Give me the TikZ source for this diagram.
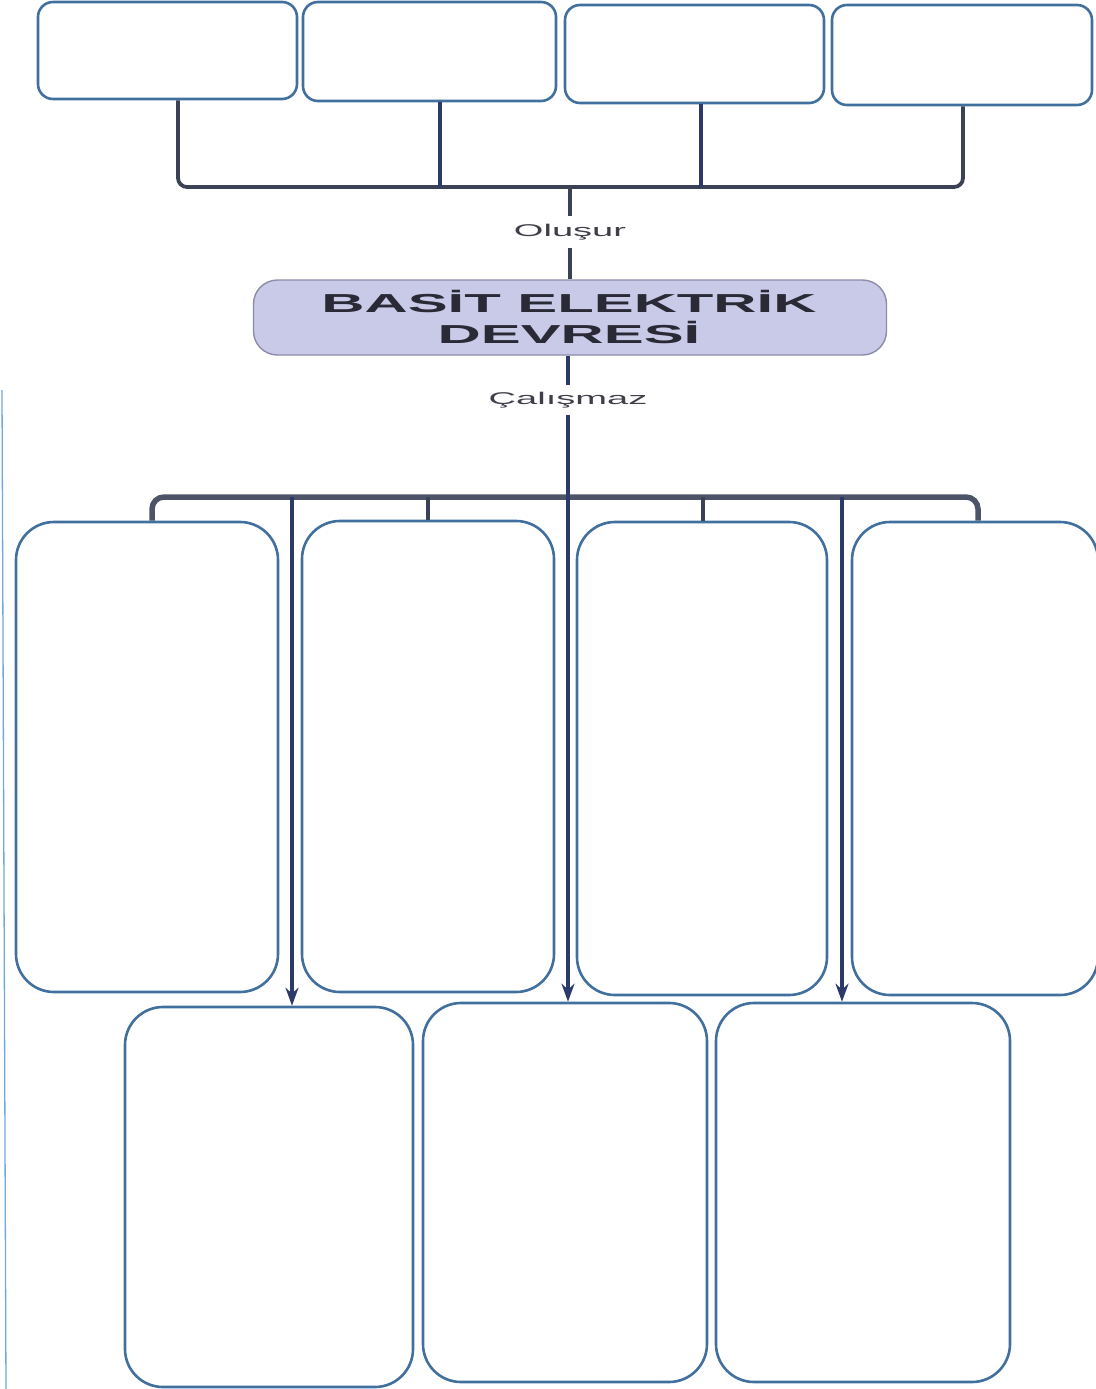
\documentclass[tikz,border=0pt]{standalone}
\usepackage{fontspec}
\setmainfont{Liberation Sans}
\usetikzlibrary{arrows.meta}
\definecolor{boxblue}{HTML}{41709F}
\definecolor{navy}{HTML}{2C3A6A}
\definecolor{darkgray}{HTML}{3C4256}
\definecolor{brack}{HTML}{4E5468}
\definecolor{lav}{HTML}{C9C9E8}
\definecolor{lavborder}{HTML}{8C8CAA}
\definecolor{txt}{HTML}{2A2A36}
\definecolor{edgeblue}{HTML}{6FA8DC}
\tikzset{
  topbox/.style={draw=boxblue, line width=2.6pt, rounded corners=15pt, fill=white, inner sep=0pt},
  tallbox/.style={draw=boxblue, line width=2.6pt, rounded corners=38pt, fill=white, inner sep=0pt},
  mainbox/.style={draw=lavborder, line width=1.4pt, rounded corners=24pt, fill=lav, inner sep=0pt, text=txt},
  conn/.style={draw=darkgray, line width=3.8pt},
  nconn/.style={draw=navy, line width=3.8pt},
  bracketline/.style={draw=brack, line width=5.5pt},
  arrowline/.style={draw=navy, line width=3.4pt, -{Stealth[length=18pt,width=13pt]}},
  lbl/.style={inner sep=0pt, outer sep=0pt, text=txt!90}
}
\begin{document}
\begin{tikzpicture}[x=1pt,y=-1pt]
\useasboundingbox (0,0) rectangle (1095,1389);
% faint left edge line
\coordinate (e1) at (2,390);
\coordinate (e2) at (6,1389);
\draw[edgeblue, line width=1.3pt] (e1) -- (e2);

% top boxes
\node[topbox, minimum width=259pt, minimum height=97pt] (t1) at (167.5,50.5) {};
\node[topbox, minimum width=253pt, minimum height=99pt] (t2) at (429.5,51.5) {};
\node[topbox, minimum width=259pt, minimum height=98pt] (t3) at (694.5,54) {};
\node[topbox, minimum width=260pt, minimum height=100pt] (t4) at (962,55) {};

% top bracket
\coordinate (bl) at (178,187);
\coordinate (bm2) at (440,187);
\coordinate (bm3) at (701,187);
\coordinate (br) at (963,187);
\coordinate (stemtop) at (570,187);
\draw[conn, rounded corners=9pt] (bl |- t1.south) -- (bl) -- (br) -- (br |- t4.south);
\draw[nconn] (bm2 |- t2.south) -- (bm2);
\draw[nconn] (bm3 |- t3.south) -- (bm3);

% central box
\node[mainbox, minimum width=633pt, minimum height=75pt] (center) at (570,317.5) {};
\node[text=txt, inner sep=0pt] (title) at (569,321)
  {\scalebox{2.3}[1]{\fontsize{26}{29}\selectfont\bfseries
   \begin{tabular}{@{}c@{}}BASİT ELEKTRİK\\DEVRESİ\end{tabular}}};

% Oluşur
\node[lbl, outer sep=8pt] (olusur) at (570,232) {\scalebox{2.24}[1]{\fontsize{17}{20}\selectfont Oluşur}};
\draw[conn] (stemtop) -- (olusur);
\draw[conn] (olusur) -- (center);

% Çalışmaz
\node[lbl, outer sep=7pt] (calismaz) at (568,400) {\scalebox{2.24}[1]{\fontsize{17}{20}\selectfont Çalışmaz}};
\draw[nconn] (calismaz |- center.south) -- (calismaz);

% middle tall boxes
\node[tallbox, minimum width=262pt, minimum height=470pt] (b1) at (147,757) {};
\node[tallbox, minimum width=252pt, minimum height=471pt] (b2) at (428,756.5) {};
\node[tallbox, minimum width=250pt, minimum height=473pt] (b3) at (702,758.5) {};
\node[tallbox, minimum width=246pt, minimum height=473pt] (b4) at (975,758.5) {};

% bottom boxes
\node[tallbox, minimum width=288pt, minimum height=380pt] (c1) at (269,1197) {};
\node[tallbox, minimum width=284pt, minimum height=379pt] (c2) at (565,1192.5) {};
\node[tallbox, minimum width=294pt, minimum height=379pt] (c3) at (863,1192.5) {};

% lower bracket
\coordinate (kl) at (152,497);
\coordinate (k2) at (428,497);
\coordinate (k3) at (703,497);
\coordinate (kr) at (978,497);
\coordinate (a1) at (292,497);
\coordinate (a3) at (842,497);
\draw[bracketline, rounded corners=12pt] (kl |- b1.north) -- (kl) -- (kr) -- (kr |- b4.north);
\draw[conn] (k2) -- (k2 |- b2.north);
\draw[conn] (k3) -- (k3 |- b3.north);

% arrows
\draw[arrowline] (a1) -- (a1 |- c1.north);
\draw[arrowline] (calismaz) -- (calismaz |- c2.north);
\draw[arrowline] (a3) -- (a3 |- c3.north);
\end{tikzpicture}
\end{document}
